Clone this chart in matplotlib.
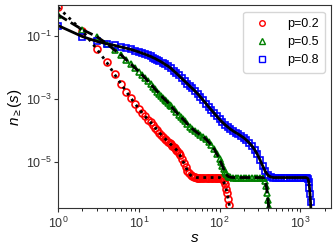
import numpy as np
import matplotlib
matplotlib.use("Agg")
import matplotlib.pyplot as plt

plt.rcParams['font.family'] = ['Liberation Sans', 'DejaVu Sans']
plt.rcParams['mathtext.fontset'] = 'custom'
plt.rcParams['mathtext.rm'] = 'Liberation Sans'
plt.rcParams['mathtext.it'] = 'Liberation Sans:italic'

labels = ["p=0.2", "p=0.5", "p=0.8"]

s_red = [1, 2, 3, 4, 5, 6, 7, 8, 9, 10, 11, 12, 13, 14, 15, 16, 17, 18, 19, 20,
         21, 22, 23, 24, 25, 26, 27, 28, 29, 30, 31, 32, 34, 36, 38, 40, 42, 44,
         46, 48, 50, 52, 54, 56, 58, 60, 63, 66, 69, 72, 75, 78, 81, 84, 87, 90,
         93, 96, 100, 104, 108, 112, 116, 120, 124, 128, 132, 136]
logn_red = [-0.09, -0.84, -1.41, -1.84, -2.22, -2.52, -2.77, -2.98, -3.16, -3.31,
            -3.45, -3.56, -3.66, -3.75, -3.84, -3.92, -4.00, -4.08, -4.14, -4.20,
            -4.26, -4.31, -4.36, -4.41, -4.45, -4.49, -4.53, -4.57, -4.61, -4.66,
            -4.71, -4.77, -4.90, -5.03, -5.16, -5.28, -5.37, -5.43,
            -5.46, -5.48, -5.49, -5.50, -5.50, -5.50, -5.50, -5.50, -5.50, -5.50,
            -5.50, -5.50, -5.50, -5.50, -5.50, -5.50, -5.50, -5.50,
            -5.50, -5.50, -5.50, -5.52, -5.56, -5.62, -5.72, -5.85, -6.00, -6.18,
            -6.38, -6.62]

s_green = [1, 2, 3, 4, 5, 6, 7, 8, 9, 10, 11, 12, 13, 14, 15, 16, 17, 18, 19, 20,
           21, 22, 23, 24, 25, 27, 29, 31, 33, 35, 37, 40, 43, 46, 50, 54, 58, 63,
           68, 73, 79, 86, 93, 100, 104, 108, 112, 117, 121, 126, 131, 136, 147,
           158, 171, 185, 200, 215, 232, 251, 271, 292, 316, 341, 355, 368, 380,
           390, 398, 406, 414]
logn_green = [-0.33, -0.80, -1.02, -1.24, -1.45, -1.60, -1.76, -1.90, -2.02, -2.13,
              -2.24, -2.34, -2.44, -2.53, -2.62, -2.70, -2.77, -2.84, -2.91, -2.97,
              -3.02, -3.07, -3.12, -3.18, -3.24, -3.33, -3.42, -3.50, -3.57, -3.64,
              -3.70, -3.80, -3.88, -3.95, -4.03, -4.09, -4.15, -4.21,
              -4.28, -4.37, -4.47, -4.60, -4.76, -4.92, -5.02, -5.12, -5.22, -5.33,
              -5.40, -5.45, -5.48, -5.49, -5.50, -5.50, -5.50, -5.50, -5.50, -5.50,
              -5.50, -5.50, -5.50, -5.50, -5.50, -5.50, -5.53, -5.62, -5.78, -5.98,
              -6.20, -6.45, -6.75]

s_blue = [1, 2, 3, 4, 5, 6, 7, 8, 9, 10, 11, 12, 13, 14, 15, 16, 17, 18, 20, 21,
          23, 25, 27, 29, 31, 34, 37, 40, 43, 46, 50, 54, 58, 63, 68, 73, 79, 86,
          93, 100, 108, 117, 126, 136, 147, 158, 171, 185, 200, 215, 232, 251,
          271, 292, 316, 341, 368, 398, 430, 464, 501, 541, 584, 631, 681, 736,
          794, 858, 926, 1000, 1080, 1166, 1220, 1250, 1275, 1300, 1320, 1340, 1360]
logn_blue = [-0.67, -1.02, -1.17, -1.25, -1.30, -1.35, -1.39, -1.43, -1.47, -1.51,
             -1.55, -1.58, -1.62, -1.65, -1.69, -1.72, -1.76, -1.79, -1.86, -1.90,
             -1.96, -2.03, -2.11, -2.18, -2.25, -2.35, -2.44, -2.52, -2.60, -2.67,
             -2.76, -2.85, -2.94, -3.05, -3.15, -3.25, -3.35, -3.46,
             -3.56, -3.65, -3.74, -3.82, -3.89, -3.96, -4.02, -4.07, -4.12, -4.18,
             -4.24, -4.31, -4.39, -4.49,
             -4.61, -4.75, -4.93, -5.12, -5.30, -5.43, -5.48, -5.50, -5.50, -5.50,
             -5.50, -5.50, -5.50, -5.50,
             -5.50, -5.50, -5.50, -5.50, -5.50, -5.50, -5.51, -5.55, -5.65, -5.82,
             -6.02, -6.28, -6.60]

series = [
    (s_red, logn_red, 'o', 'red', ':'),
    (s_green, logn_green, '^', 'green', '--'),
    (s_blue, logn_blue, 's', 'blue', '-'),
]

fig = plt.figure(figsize=(3.36, 2.49), dpi=100)
ax = fig.add_axes([0.173, 0.163, 0.812, 0.815])

for (s, ln, m, c, ls), lab in zip(series, labels):
    n = 10.0 ** np.array(ln)
    ax.plot(s, n, linestyle='none', marker=m, ms=5.0, mfc='none', mec=c,
            mew=1.2, label=lab)
for (s, ln, m, c, ls) in series:
    n = 10.0 ** np.array(ln)
    ax.plot(s, n, color='black', linestyle=ls, lw=2)

ax.set_xscale('log')
ax.set_yscale('log')
ax.set_xlim(1, 2400)
ax.set_ylim(3.3e-7, 0.93)
ax.set_yticks([1e-1, 1e-3, 1e-5])
ax.yaxis.set_minor_locator(matplotlib.ticker.NullLocator())
ax.tick_params(labelsize=9, colors='#333333', length=3, pad=2)
for sp in ax.spines.values():
    sp.set_color('#333333')
ax.set_xlabel(r'$s$', fontsize=11, labelpad=0)
ax.set_ylabel(r'$n_{\geq}(s)$', fontsize=11, labelpad=1)
leg = ax.legend(loc='upper right', fontsize=9, markerscale=0.8, handletextpad=1.0,
                borderpad=0.5, labelspacing=0.5)
for h in leg.legend_handles:
    h.set_markeredgewidth(1.0)

fig.savefig('out.png', dpi=100)
